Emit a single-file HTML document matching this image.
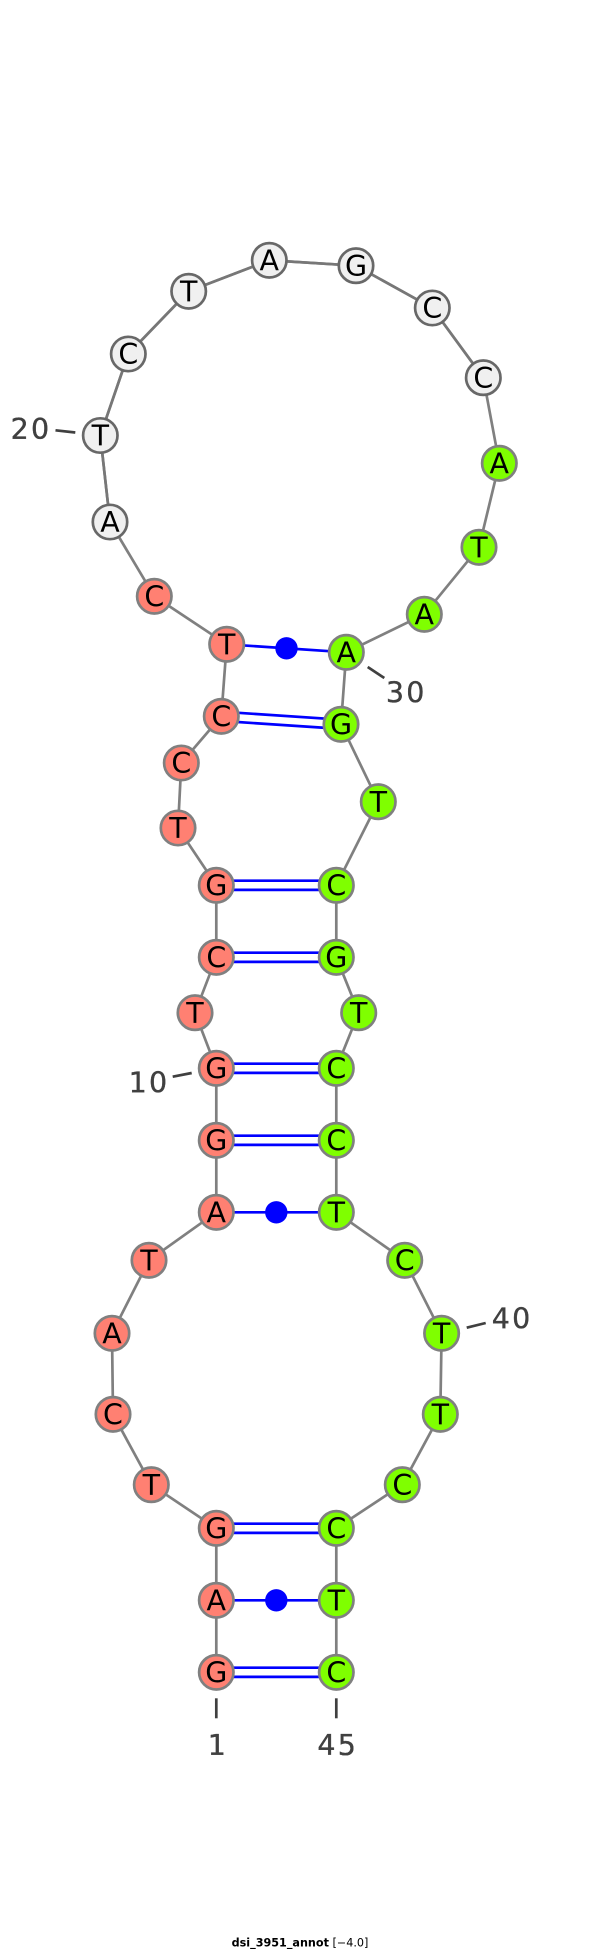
<!DOCTYPE html>
<html><head><meta charset="utf-8"><title>dsi_3951_annot</title>
<style>
html,body{margin:0;padding:0;background:#fff}
svg{display:block}
.n text{font-family:"DejaVu Sans","Liberation Sans",sans-serif;font-size:28.5px;text-anchor:middle;fill:#000}
.n circle{stroke:#808080;stroke-width:2.7}
.r circle{fill:#ff8072}.g circle{fill:#7fff00}.w circle{fill:#f0f0f0;stroke:#686868}
.l{font-family:"DejaVu Sans","Liberation Sans",sans-serif;font-size:28.5px;text-anchor:middle;fill:#404040;stroke:#404040;stroke-width:.35;letter-spacing:2.3px}
</style></head><body>
<svg width="600" height="1951" viewBox="0 0 600 1951" xmlns="http://www.w3.org/2000/svg">
<rect width="600" height="1951" fill="#fff"/>
<polyline fill="none" stroke="#808080" stroke-width="2.7" points="216.3,1672.3 216.3,1600.3 216.3,1528.3 151.3,1484.7 113,1414.3 112,1333.3 149,1260.3 216.3,1212.3 216.3,1140.3 216.3,1068.3 195,1012.7 216.3,957.3 216.3,885.3 178,828 181.3,763 221.3,716.3 226.7,644.3 154.3,596.3 110,522 100.3,435.5 128.3,354 188.7,291.3 269.3,260.3 356,265.7 432.3,308 483.3,377.7 499.3,463.3 479,547.3 424.3,614.3 346.3,652.3 341,724.3 378.3,801.7 336.3,885.3 336.3,957.3 358.7,1012.7 336.3,1068.3 336.3,1140.3 336.3,1212.3 404.7,1260.3 441.6,1333.3 440.3,1414.3 402.3,1484.7 336.3,1528.3 336.3,1600.3 336.3,1672.3"/>
<polyline fill="none" stroke="#777" stroke-width="2.7" points="110,522 100.3,435.5 128.3,354 188.7,291.3 269.3,260.3 356,265.7 432.3,308 483.3,377.7"/>
<g stroke="#0000ff" stroke-width="2.7" fill="none">
<path d="M216.3 1667.7H336.3M216.3 1676.9H336.3"/>
<path d="M216.3 1600.3H336.3"/>
<path d="M216.3 1523.7H336.3M216.3 1532.9H336.3"/>
<path d="M216.3 1212.3H336.3"/>
<path d="M216.3 1135.7H336.3M216.3 1144.9H336.3"/>
<path d="M216.3 1063.7H336.3M216.3 1072.9H336.3"/>
<path d="M216.3 952.7H336.3M216.3 961.9H336.3"/>
<path d="M216.3 880.7H336.3M216.3 889.9H336.3"/>
<path d="M221.6 711.7L341.3 719.7M221 720.9L340.7 728.9"/>
<path d="M226.7 644.3L346.3 652.3"/>
</g>
<g fill="#0000ff">
<circle cx="276.3" cy="1600.3" r="11.2"/>
<circle cx="276.3" cy="1212.3" r="11.2"/>
<circle cx="286.5" cy="648.3" r="11.2"/>
</g>
<g stroke="#404040" stroke-width="2.7" fill="none">
<path d="M216.3 1698.3V1718.3"/>
<path d="M336.3 1698.3V1718.3"/>
<path d="M172.7 1076.7L191.7 1073"/>
<path d="M55.5 430.3L75.3 432.5"/>
<path d="M367.7 667L384.3 678"/>
<path d="M466.7 1327.7L485.7 1323"/>
</g>
<text class="l" x="218" y="1755">1</text>
<text class="l" x="337.8" y="1755">45</text>
<text class="l" x="149" y="1092.3">10</text>
<text class="l" x="31" y="439">20</text>
<text class="l" x="406.3" y="702.5">30</text>
<text class="l" x="512.2" y="1328.3">40</text>
<g class="n r">
<circle cx="216.3" cy="1672.3" r="17.2"/><text x="216.3" y="1682.5">G</text>
<circle cx="216.3" cy="1600.3" r="17.2"/><text x="216.3" y="1610.5">A</text>
<circle cx="216.3" cy="1528.3" r="17.2"/><text x="216.3" y="1538.5">G</text>
<circle cx="151.3" cy="1484.7" r="17.2"/><text x="151.3" y="1495">T</text>
<circle cx="113" cy="1414.3" r="17.2"/><text x="113" y="1424.5">C</text>
<circle cx="112" cy="1333.3" r="17.2"/><text x="112" y="1343.5">A</text>
<circle cx="149" cy="1260.3" r="17.2"/><text x="149" y="1270.5">T</text>
<circle cx="216.3" cy="1212.3" r="17.2"/><text x="216.3" y="1222.5">A</text>
<circle cx="216.3" cy="1140.3" r="17.2"/><text x="216.3" y="1150.5">G</text>
<circle cx="216.3" cy="1068.3" r="17.2"/><text x="216.3" y="1078.5">G</text>
<circle cx="195" cy="1012.7" r="17.2"/><text x="195" y="1023">T</text>
<circle cx="216.3" cy="957.3" r="17.2"/><text x="216.3" y="967.5">C</text>
<circle cx="216.3" cy="885.3" r="17.2"/><text x="216.3" y="895.5">G</text>
<circle cx="178" cy="828" r="17.2"/><text x="178" y="838.2">T</text>
<circle cx="181.3" cy="763" r="17.2"/><text x="181.3" y="773.2">C</text>
<circle cx="221.3" cy="716.3" r="17.2"/><text x="221.3" y="726.5">C</text>
<circle cx="226.7" cy="644.3" r="17.2"/><text x="226.7" y="654.5">T</text>
<circle cx="154.3" cy="596.3" r="17.2"/><text x="154.3" y="606.5">C</text>
</g>
<g class="n w">
<circle cx="110" cy="522" r="17.2"/><text x="110" y="532.2">A</text>
<circle cx="100.3" cy="435.5" r="17.2"/><text x="100.3" y="445.7">T</text>
<circle cx="128.3" cy="354" r="17.2"/><text x="128.3" y="364.2">C</text>
<circle cx="188.7" cy="291.3" r="17.2"/><text x="188.7" y="301.5">T</text>
<circle cx="269.3" cy="260.3" r="17.2"/><text x="269.3" y="270.5">A</text>
<circle cx="356" cy="265.7" r="17.2"/><text x="356" y="275.9">G</text>
<circle cx="432.3" cy="308" r="17.2"/><text x="432.3" y="318.2">C</text>
<circle cx="483.3" cy="377.7" r="17.2"/><text x="483.3" y="387.9">C</text>
</g>
<g class="n g">
<circle cx="499.3" cy="463.3" r="17.2"/><text x="499.3" y="473.5">A</text>
<circle cx="479" cy="547.3" r="17.2"/><text x="479" y="557.5">T</text>
<circle cx="424.3" cy="614.3" r="17.2"/><text x="424.3" y="624.5">A</text>
<circle cx="346.3" cy="652.3" r="17.2"/><text x="346.3" y="662.5">A</text>
<circle cx="341" cy="724.3" r="17.2"/><text x="341" y="734.5">G</text>
<circle cx="378.3" cy="801.7" r="17.2"/><text x="378.3" y="811.9">T</text>
<circle cx="336.3" cy="885.3" r="17.2"/><text x="336.3" y="895.5">C</text>
<circle cx="336.3" cy="957.3" r="17.2"/><text x="336.3" y="967.5">G</text>
<circle cx="358.7" cy="1012.7" r="17.2"/><text x="358.7" y="1023">T</text>
<circle cx="336.3" cy="1068.3" r="17.2"/><text x="336.3" y="1078.5">C</text>
<circle cx="336.3" cy="1140.3" r="17.2"/><text x="336.3" y="1150.5">C</text>
<circle cx="336.3" cy="1212.3" r="17.2"/><text x="336.3" y="1222.5">T</text>
<circle cx="404.7" cy="1260.3" r="17.2"/><text x="404.7" y="1270.5">C</text>
<circle cx="441.6" cy="1333.3" r="17.2"/><text x="441.6" y="1343.5">T</text>
<circle cx="440.3" cy="1414.3" r="17.2"/><text x="440.3" y="1424.5">T</text>
<circle cx="402.3" cy="1484.7" r="17.2"/><text x="402.3" y="1495">C</text>
<circle cx="336.3" cy="1528.3" r="17.2"/><text x="336.3" y="1538.5">C</text>
<circle cx="336.3" cy="1600.3" r="17.2"/><text x="336.3" y="1610.5">T</text>
<circle cx="336.3" cy="1672.3" r="17.2"/><text x="336.3" y="1682.5">C</text>
</g>
<text x="300" y="1946.5" text-anchor="middle" font-family="'DejaVu Sans','Liberation Sans',sans-serif" font-size="11.2" fill="#000"><tspan font-weight="bold">dsi_3951_annot</tspan> [−4.0]</text>
</svg>
</body></html>
